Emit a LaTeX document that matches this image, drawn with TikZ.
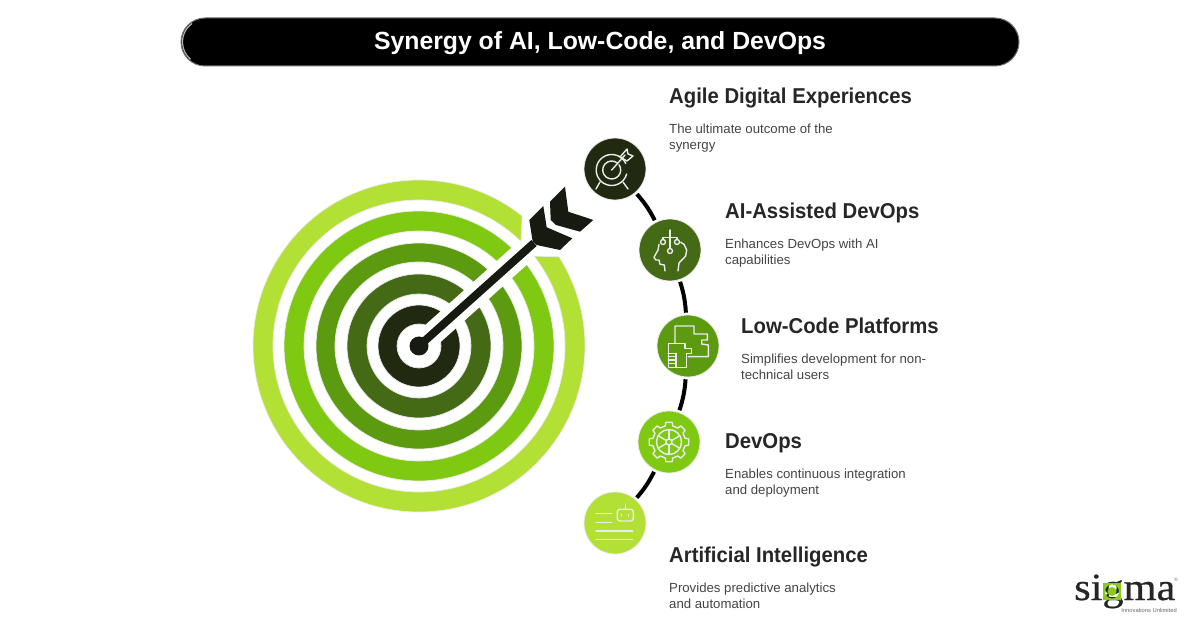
\documentclass[tikz,border=0pt]{standalone}
\usepackage{xcolor}
\usepackage{fontspec}
\usepackage{tikz}
\usetikzlibrary{positioning}
\setmainfont{Liberation Sans}
\newfontfamily\headfont[FakeStretch=0.945]{Liberation Sans}
\newfontfamily\logofont[FakeStretch=1.1, FakeBold=0.6]{Liberation Serif}
\definecolor{ringa}{HTML}{B2E035}
\definecolor{ringb}{HTML}{7FC912}
\definecolor{ringc}{HTML}{5C9A10}
\definecolor{ringd}{HTML}{456A16}
\definecolor{ringe}{HTML}{212A10}
\definecolor{arrowblack}{HTML}{171A10}
\definecolor{inktext}{HTML}{262626}
\definecolor{greytext}{HTML}{444444}
\begin{document}
\begin{tikzpicture}
    [x=1pt, y=1pt,
      % rings of the target
      ring/.style={draw=black!8, line width=0.7pt, even odd rule},
      % round step nodes
      disc/.style={circle, draw=black!8, line width=0.8pt, minimum size=62pt, inner sep=0pt},
      link/.style={draw=black, line width=4pt, shorten >=2pt, shorten <=2pt},
      iconline/.style={draw=white!92!black, line width=1.4pt, line join=round, line cap=round},
      % texts
      headtext/.style={anchor=base west, inner sep=0pt, text height=16pt, text depth=5pt, text=inktext, font=\fontsize{21.5}{26}\headfont\bfseries},
      desctext/.style={anchor=north west, inner sep=0pt, align=left, text=greytext, font=\fontsize{13.2}{16}\selectfont},
      node distance=15pt]
    \useasboundingbox (0,0) rectangle (1200,627);

    % title
    \node[fill=black, draw=black!55, line width=1pt, rounded corners=24pt, minimum width=838pt, minimum height=48pt] (title) at (600,585) {};
    \draw[black!30, line width=1.2pt] (205,585) ++(125:22.5) arc[start angle=125, end angle=230, radius=22.5];
    \node[text=white, font=\fontsize{24.8}{30}\selectfont\bfseries] (titletext) at (600,583.5) {Synergy of AI, Low-Code, and DevOps};

    % target
    \coordinate (tgt) at (419,281);
    \foreach \rout/\rin/\col in {135/115/ringb, 103/84/ringc, 72/52/ringd, 41/22/ringe}
      \path[ring, fill=\col] (tgt) circle[radius=\rout] (tgt) circle[radius=\rin];
    \coordinate (shaftend) at (534,384);
    \draw[white, line width=23pt] (tgt) -- (shaftend);
    \path[ring, fill=ringa] ([shift={(tgt)}]51.6:166) arc[start angle=51.6, end angle=392.5, radius=166]
      -- ([shift={(tgt)}]398:146) arc[start angle=398, end angle=45.7, radius=146] -- cycle;
    \draw[arrowblack, line width=8pt] (tgt) -- (shaftend);
    \fill[arrowblack] (tgt) circle[radius=9.5];
    \fill[arrowblack] (550,425.3) -- (565,440.3) -- (568.3,415.3) -- (593.3,407) -- (580,395.3) -- (556,402) -- (550.7,407) -- cycle;
    \fill[arrowblack] (529.3,407) -- (543.3,421) -- (546.7,399.7) -- (572.3,388.7) -- (560,377) -- (536.7,382) -- (532.7,385.3) -- cycle;

    % step nodes
    \node[disc, fill=ringe] (goal) at (615,458) {};
    \node[disc, fill=ringd] (assist) at (670,377) {};
    \node[disc, fill=ringc] (lowcode) at (688,281) {};
    \node[disc, fill=ringb] (devops) at (669,185) {};
    \node[disc, fill=ringa] (intel) at (615,104) {};

    \path[link]
      (goal) edge[bend left=7] (assist)
      (assist) edge[bend left=7] (lowcode)
      (lowcode) edge[bend left=7] (devops)
      (devops) edge[bend left=7] (intel);

    % icons
    \begin{scope}[shift={(goal.center)}, iconline]
      \draw (-3.3,-1) ++(25:15.5) arc[start angle=25, end angle=345, radius=15.5];
      \draw (-3.3,-1) ++(50:9) arc[start angle=50, end angle=395, radius=9];
      \draw (-3.3,-1) -- (10,14);
      \draw (5,12) -- (12,20) -- (13,15) -- (18,13) -- (12,8) -- cycle;
      \draw (-15,-13) -- (-19,-20) (8,-13) -- (13,-20);
    \end{scope}
    \begin{scope}[shift={(assist.center)}, iconline]
      \draw (-5,-21) -- (-5.7,-15) -- (-10,-14.3) -- (-11,-10) -- (-14.3,-10) -- (-16,-7.3) -- (-12,0) -- (-11,5.7);
      \draw (8,-21) -- (9,-13) -- (15.7,-6) -- (16.7,0) -- (14,5.7) -- (10.7,7.7);
      \draw (0,20) -- (0,1.5) (-7,10.5) -- (-7,12.7) -- (7,12.7) -- (7,10.5);
      \foreach \dotx/\doty in {0/-1, -7/8, 7/8}
        \draw (\dotx,\doty) circle[radius=2.5];
    \end{scope}
    \begin{scope}[shift={(lowcode.center)}, iconline]
      \draw (-13,2.7) -- (-13,20) -- (6,20) -- (6,12) -- (19.3,12) -- (19.3,6) -- (13.7,6) -- (13.7,2) -- (20.3,1) -- (20.3,-10.7) -- (0.3,-10.7);
      \draw (-19.7,2.7) -- (-3,2.7) -- (-3,-2.3) -- (3.7,-2.3) -- (3.7,-7.3) -- (-1.3,-7.3) -- (-1.3,-21.3) -- (-19.7,-21.3) -- cycle;
      \draw (-12,-7.3) -- (-12,-21.3);
      \foreach \stairy in {-7.3,-10.7,-14,-17.3}
        \draw (-19.7,\stairy) -- (-12,\stairy);
    \end{scope}
    \begin{scope}[shift={(devops.center)}, iconline]
      \draw (-13:16.5) \foreach \ang in {0,45,...,315} {
        -- (\ang-13:16.5) -- (\ang-9:20) -- (\ang+9:20) -- (\ang+13:16.5)
      } -- cycle;
      \draw (0,0) circle[radius=12.5] (0,0) circle[radius=3];
      \foreach \ang in {30,90,...,330}
        \draw (\ang:3) -- (\ang:12.5);
    \end{scope}
    \begin{scope}[shift={(intel.center)}, iconline]
      \draw (-19,9.3) -- (-3.3,9.3) (-19,0.3) -- (-3.3,0.3) (-19,-8) -- (17.7,-8) (-19,-16.3) -- (17.7,-16.3);
      \draw[rounded corners=2.5pt] (2.3,2) rectangle (18.3,13.7);
      \draw (10.3,13.7) -- (10.3,18.7) (6.7,7) -- (6.7,8.5) (13.7,7) -- (13.7,8.5);
    \end{scope}

    % texts
    \node[headtext] (goalhead) at (669,523) {Agile Digital Experiences};
    \node[desctext, below=of goalhead.south west, anchor=north west] (goaldesc) {The ultimate outcome of the\\synergy};
    \node[headtext] (assisthead) at (725,408) {AI-Assisted DevOps};
    \node[desctext, below=of assisthead.south west, anchor=north west] (assistdesc) {Enhances DevOps with AI\\capabilities};
    \node[headtext] (lowhead) at (741,293) {Low-Code Platforms};
    \node[desctext, below=of lowhead.south west, anchor=north west] (lowdesc) {Simplifies development for non-\\technical users};
    \node[headtext] (devhead) at (725,178) {DevOps};
    \node[desctext, below=of devhead.south west, anchor=north west] (devdesc) {Enables continuous integration\\and deployment};
    \node[headtext] (intelhead) at (669,64) {Artificial Intelligence};
    \node[desctext, below=of intelhead.south west, anchor=north west] (inteldesc) {Provides predictive analytics\\and automation};

    % logo
    \node[anchor=base west, inner sep=0pt, text depth=0pt, text=black!85, font=\fontsize{38.5}{42}\logofont] (logo) at (1074,27) {sigma};
    \fill[ringb!85!ringa, even odd rule] (1103,27) rectangle (1121,44) (1112,35.5) circle[radius=7];
    \fill[ringb!85!ringa] (1112,35.5) circle[radius=4.5];
    \node[anchor=base east, inner sep=0pt, text=black!60, font=\fontsize{5.8}{6}\selectfont] (tagline) at (1177,15) {Innovations Unlimited};
    \node[inner sep=0pt, text=black!55, font=\fontsize{5}{6}\selectfont] (regmark) at (1176,47) {®};
\end{tikzpicture}
\end{document}
